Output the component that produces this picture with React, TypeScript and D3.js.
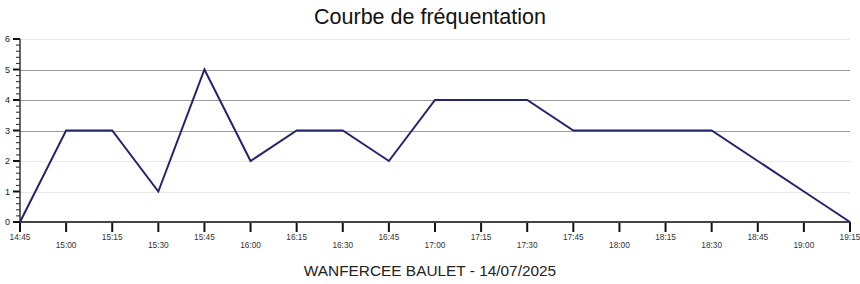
import React from "react";
import * as d3 from "d3";

const times = ["14:45","15:00","15:15","15:30","15:45","16:00","16:15","16:30","16:45","17:00","17:15","17:30","17:45","18:00","18:15","18:30","18:45","19:00","19:15"];
const visitors = [0,3,3,1,5,2,3,3,2,4,4,4,3,3,3,3,2,1,0];
const yTicks = [0,1,2,3,4,5,6];
const title = "Courbe de fréquentation";
const subtitle = "WANFERCEE BAULET - 14/07/2025";

const W = 860, H = 284;
const M = { left: 20, right: 10, top: 39, bottom: 62 };
const strongGrid = new Set([3, 4, 5]);

export default function App() {
  const x = d3.scalePoint<string>().domain(times).range([M.left, W - M.right]);
  const y = d3.scaleLinear().domain([0, 6]).range([H - M.bottom, M.top]);
  const line = d3.line<number>().x((_, i) => x(times[i])!).y((d) => y(d));
  const minor = d3.range(0, 6.0001, 0.2).filter((v) => Math.abs(v - Math.round(v)) > 1e-6);
  const font = "Liberation Sans, Arial, sans-serif";
  return (
    <svg width={W} height={H} style={{ position: "absolute", left: 0, top: 0, background: "#fff" }}>
      <text x={430} y={24} textAnchor="middle" fontFamily={font} fontSize={21.5} fill="#111">{title}</text>
      {yTicks.filter((t) => t > 0).map((t) => (
        <line key={"g" + t} x1={M.left} x2={W - M.right} y1={Math.round(y(t)) + 0.5} y2={Math.round(y(t)) + 0.5}
          stroke={strongGrid.has(t) ? "#9a9a9a" : "#e8e8e8"} strokeWidth={1} />
      ))}
      {minor.map((t, i) => (
        <line key={"m" + i} x1={16} x2={M.left} y1={y(t)} y2={y(t)} stroke="#222" strokeWidth={1} />
      ))}
      {yTicks.map((t) => (
        <g key={"y" + t}>
          <line x1={13} x2={M.left} y1={y(t)} y2={y(t)} stroke="#111" strokeWidth={2} />
          <text x={10} y={y(t) + 3} textAnchor="end" fontFamily={font} fontSize={9} fill="#222">{t}</text>
        </g>
      ))}
      <line x1={M.left} x2={M.left} y1={M.top} y2={y(0)} stroke="#333" strokeWidth={1.5} />
      {times.map((t, i) => (
        <g key={"x" + t}>
          <line x1={x(t)} x2={x(t)} y1={y(0)} y2={y(0) + 10} stroke="#111" strokeWidth={2} />
          <text x={x(t)} y={i % 2 === 0 ? 240 : 248} textAnchor="middle" fontFamily={font} fontSize={8.3} fill="#333">{t}</text>
        </g>
      ))}
      <line x1={M.left} x2={W - M.right} y1={y(0)} y2={y(0)} stroke="#444" strokeWidth={2} />
      <path d={line(visitors) || ""} fill="none" stroke="#23236e" strokeWidth={2} strokeLinejoin="miter" />
      <text x={430} y={276} textAnchor="middle" fontFamily={font} fontSize={15.4} fill="#222">{subtitle}</text>
    </svg>
  );
}
